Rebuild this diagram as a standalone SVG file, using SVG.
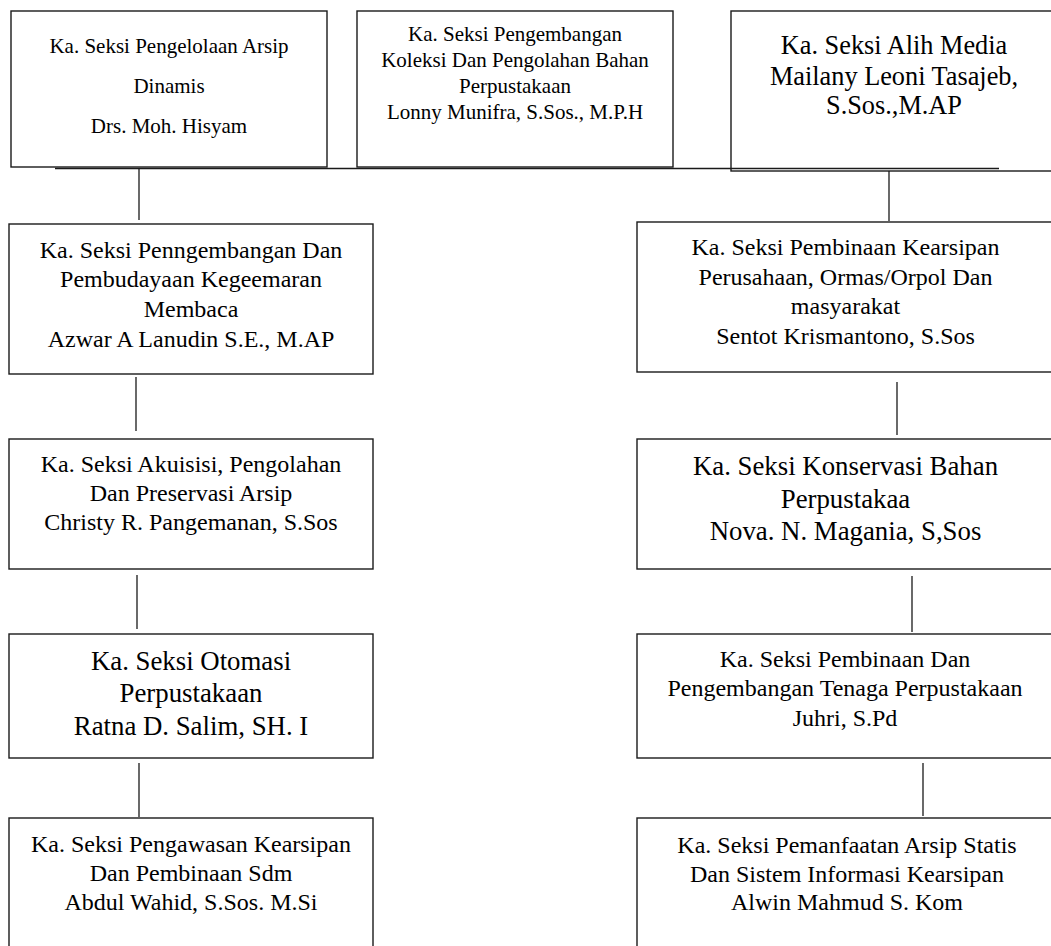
<svg xmlns="http://www.w3.org/2000/svg" width="1051" height="946" viewBox="0 0 1051 946">
<style>
.box{fill:#fff;stroke:#1a1a1a;stroke-width:1.4}
.con line{stroke:#1a1a1a;stroke-width:1.3}
text{font-family:"Liberation Serif","Times New Roman",serif;fill:#000;text-anchor:middle}
.f21{font-size:21px}
.f24{font-size:24px}
.f26{font-size:26.3px}
.f27{font-size:26.8px}
</style>
<rect width="1051" height="946" fill="#fff"/>
<g id="n1">
<rect class="box" x="11" y="11" width="316" height="156"/>
<text class="f21" x="169" y="53">Ka. Seksi Pengelolaan Arsip</text>
<text class="f21" x="169" y="93">Dinamis</text>
<text class="f21" x="169" y="133">Drs. Moh. Hisyam</text>
</g>
<g id="n2">
<rect class="box" x="357" y="11" width="316" height="156"/>
<text class="f21" x="515" y="41">Ka. Seksi Pengembangan</text>
<text class="f21" x="515" y="67">Koleksi Dan Pengolahan Bahan</text>
<text class="f21" x="515" y="93">Perpustakaan</text>
<text class="f21" x="515" y="119">Lonny Munifra, S.Sos., M.P.H</text>
</g>
<g id="n3">
<rect class="box" x="731" y="11" width="340" height="160"/>
<text class="f26" x="894" y="54">Ka. Seksi Alih Media</text>
<text class="f26" x="894" y="85">Mailany Leoni Tasajeb,</text>
<text class="f26" x="894" y="114">S.Sos.,M.AP</text>
</g>
<g id="n4">
<rect class="box" x="9" y="224" width="364" height="150"/>
<text class="f24" x="191" y="258">Ka. Seksi Penngembangan Dan</text>
<text class="f24" x="191" y="287">Pembudayaan Kegeemaran</text>
<text class="f24" x="191" y="317">Membaca</text>
<text class="f24" x="191" y="347">Azwar A Lanudin S.E., M.AP</text>
</g>
<g id="n5">
<rect class="box" x="637" y="222" width="430" height="150"/>
<text class="f24" x="845.5" y="255">Ka. Seksi Pembinaan Kearsipan</text>
<text class="f24" x="845.5" y="284.5">Perusahaan, Ormas/Orpol Dan</text>
<text class="f24" x="845.5" y="314">masyarakat</text>
<text class="f24" x="845.5" y="343.5">Sentot Krismantono, S.Sos</text>
</g>
<g id="n6">
<rect class="box" x="9" y="439" width="364" height="130"/>
<text class="f24" x="191" y="472">Ka. Seksi Akuisisi, Pengolahan</text>
<text class="f24" x="191" y="501">Dan Preservasi Arsip</text>
<text class="f24" x="191" y="530">Christy R. Pangemanan, S.Sos</text>
</g>
<g id="n7">
<rect class="box" x="637" y="439" width="430" height="130"/>
<text class="f27" x="845.5" y="475">Ka. Seksi Konservasi Bahan</text>
<text class="f27" x="845.5" y="508">Perpustakaa</text>
<text class="f27" x="845.5" y="540">Nova. N. Magania, S,Sos</text>
</g>
<g id="n8">
<rect class="box" x="9" y="634" width="364" height="124"/>
<text class="f27" x="191" y="670">Ka. Seksi Otomasi</text>
<text class="f27" x="191" y="702">Perpustakaan</text>
<text class="f27" x="191" y="735">Ratna D. Salim, SH. I</text>
</g>
<g id="n9">
<rect class="box" x="637" y="634" width="430" height="124"/>
<text class="f24" x="845" y="667">Ka. Seksi Pembinaan Dan</text>
<text class="f24" x="845" y="696">Pengembangan Tenaga Perpustakaan</text>
<text class="f24" x="845" y="726">Juhri, S.Pd</text>
</g>
<g id="n10">
<rect class="box" x="9" y="818" width="364" height="150"/>
<text class="f24" x="191" y="852">Ka. Seksi Pengawasan Kearsipan</text>
<text class="f24" x="191" y="881">Dan Pembinaan Sdm</text>
<text class="f24" x="191" y="910">Abdul Wahid, S.Sos. M.Si</text>
</g>
<g id="n11">
<rect class="box" x="637" y="818" width="430" height="150"/>
<text class="f24" x="847" y="853">Ka. Seksi Pemanfaatan Arsip Statis</text>
<text class="f24" x="847" y="882">Dan Sistem Informasi Kearsipan</text>
<text class="f24" x="847" y="910">Alwin Mahmud S. Kom</text>
</g>
<g id="connectors" class="con">
<line x1="55" y1="168.5" x2="999" y2="168.5"/>
<line x1="139" y1="168" x2="139" y2="220"/>
<line x1="889" y1="171" x2="889" y2="221"/>
<line x1="136" y1="377" x2="136" y2="431"/>
<line x1="137" y1="575" x2="137" y2="629"/>
<line x1="139" y1="763" x2="139" y2="817"/>
<line x1="897" y1="382" x2="897" y2="435"/>
<line x1="912" y1="576" x2="912" y2="632"/>
<line x1="923" y1="763" x2="923" y2="816"/>
</g>
</svg>
